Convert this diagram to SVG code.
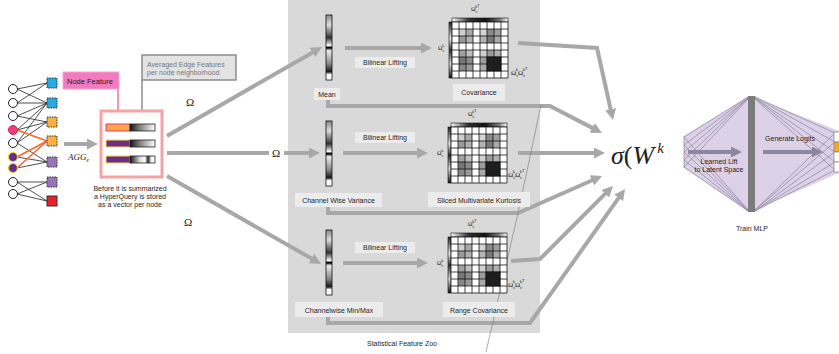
<svg xmlns="http://www.w3.org/2000/svg" width="839" height="354" viewBox="0 0 839 354">
<defs>
<style>
text{font-family:"Liberation Sans",Arial,sans-serif;fill:#1e1e1e}
.lbl{font-size:7px;text-anchor:middle}
.box{fill:#ececec}
.conn{fill:none;stroke:#a8a8a8;stroke-width:4}
.arr{marker-end:url(#ah)}
.parr{fill:none;stroke:#8e86a0;stroke-width:4;marker-end:url(#ahp)}
.edge{stroke:#222;stroke-width:0.8}
.oedge{stroke:#f26a2e;stroke-width:1.6}
.math{font-family:"Liberation Serif","Times New Roman",serif;fill:#222}
.net{stroke:#8c819f;stroke-width:0.7;fill:none}
.dsq{stroke:#333;stroke-width:1;stroke-dasharray:1.5 1}
</style>
<marker id="ah" viewBox="0 0 10 10" refX="2" refY="5" markerUnits="userSpaceOnUse" markerWidth="11" markerHeight="11" orient="auto"><path d="M0,0 L10,5 L0,10 z" fill="#a8a8a8"/></marker>
<marker id="ahp" viewBox="0 0 10 10" refX="2" refY="5" markerUnits="userSpaceOnUse" markerWidth="11" markerHeight="11" orient="auto"><path d="M0,0 L10,5 L0,10 z" fill="#8e86a0"/></marker>
<linearGradient id="hg1" x1="0" y1="0" x2="1" y2="0"><stop offset="0" stop-color="#111"/><stop offset="0.35" stop-color="#777"/><stop offset="1" stop-color="#fff"/></linearGradient>
<linearGradient id="hg3" x1="0" y1="0" x2="1" y2="0"><stop offset="0" stop-color="#111"/><stop offset="0.4" stop-color="#ddd"/><stop offset="0.6" stop-color="#fff"/><stop offset="0.72" stop-color="#222"/><stop offset="0.85" stop-color="#eee"/><stop offset="1" stop-color="#fff"/></linearGradient>
<linearGradient id="vcol" x1="0" y1="0" x2="0" y2="1"><stop offset="0" stop-color="#888"/><stop offset="0.15" stop-color="#ddd"/><stop offset="0.35" stop-color="#333"/><stop offset="0.47" stop-color="#fff"/><stop offset="0.5" stop-color="#000"/><stop offset="0.55" stop-color="#eee"/><stop offset="0.75" stop-color="#888"/><stop offset="0.88" stop-color="#111"/><stop offset="0.89" stop-color="#fff"/><stop offset="1" stop-color="#fff"/></linearGradient>
<linearGradient id="mh" x1="0" y1="0" x2="1" y2="0"><stop offset="0" stop-color="#fff"/><stop offset="0.3" stop-color="#333"/><stop offset="0.6" stop-color="#111"/><stop offset="0.85" stop-color="#777"/><stop offset="1" stop-color="#fff"/></linearGradient>
<linearGradient id="mv" x1="0" y1="0" x2="0" y2="1"><stop offset="0" stop-color="#222"/><stop offset="0.3" stop-color="#eee"/><stop offset="0.5" stop-color="#333"/><stop offset="0.75" stop-color="#ddd"/><stop offset="1" stop-color="#111"/></linearGradient>
<g id="mtx">
<rect x="3" y="0" width="56" height="4" fill="url(#mh)" stroke="#111" stroke-width="0.6"/>
<rect x="0" y="4" width="3" height="56" fill="url(#mv)" stroke="#111" stroke-width="0.6"/>
<rect x="3" y="4" width="56" height="56" fill="#fff"/>
<rect x="10" y="11" width="7" height="7" fill="#cfcfcf"/><rect x="17" y="11" width="7" height="7" fill="#a9a9a9"/><rect x="31" y="11" width="7" height="7" fill="#d4d4d4"/><rect x="38" y="11" width="7" height="7" fill="#8a8a8a"/><rect x="45" y="11" width="7" height="7" fill="#a0a0a0"/>
<rect x="10" y="18" width="7" height="7" fill="#9a9a9a"/><rect x="17" y="18" width="7" height="7" fill="#b0b0b0"/><rect x="31" y="18" width="7" height="7" fill="#b4b4b4"/><rect x="38" y="18" width="7" height="7" fill="#7a7a7a"/><rect x="45" y="18" width="7" height="7" fill="#aaa"/>
<rect x="10" y="32" width="7" height="7" fill="#a0a0a0"/><rect x="17" y="32" width="7" height="7" fill="#c0c0c0"/><rect x="31" y="32" width="7" height="7" fill="#d0d0d0"/><rect x="38" y="32" width="7" height="7" fill="#999"/><rect x="45" y="32" width="7" height="7" fill="#b0b0b0"/>
<rect x="10" y="39" width="7" height="7" fill="#777"/><rect x="17" y="39" width="7" height="7" fill="#8a8a8a"/><rect x="31" y="39" width="7" height="7" fill="#9c9c9c"/>
<rect x="10" y="46" width="7" height="7" fill="#888"/><rect x="17" y="46" width="7" height="7" fill="#9a9a9a"/><rect x="31" y="46" width="7" height="7" fill="#aaa"/>
<path d="M3,4V60M10,4V60M17,4V60M24,4V60M31,4V60M38,4V60M45,4V60M52,4V60M59,4V60M3,4H59M3,11H59M3,18H59M3,25H59M3,32H59M3,39H59M3,46H59M3,53H59M3,60H59" stroke="#111" stroke-width="0.8" fill="none"/>
<rect x="38" y="39" width="14" height="14" fill="#1e1e1e" stroke="#111" stroke-width="0.8"/>
</g>
<g id="col">
<rect x="0" y="0" width="6" height="65" fill="url(#vcol)" stroke="#111" stroke-width="0.8"/>
<path d="M0,33H6M0,58H6" stroke="#111" stroke-width="0.8"/>
</g>
</defs>

<rect x="0" y="0" width="839" height="354" fill="#fff"/>
<rect id="panel" x="288" y="0" width="252" height="333" fill="#d9d9d9"/>
<text x="402" y="346" class="lbl">Statistical Feature Zoo</text>

<g id="graph">
<g id="edges-black">
<line class="edge" x1="17" y1="89" x2="47" y2="83"/><line class="edge" x1="17" y1="89" x2="47" y2="103"/>
<line class="edge" x1="17" y1="103" x2="47" y2="83"/><line class="edge" x1="17" y1="103" x2="47" y2="103"/>
<line class="edge" x1="17" y1="116" x2="47" y2="103"/><line class="edge" x1="17" y1="116" x2="47" y2="122"/>
<line class="edge" x1="17" y1="130" x2="47" y2="103"/><line class="edge" x1="17" y1="130" x2="47" y2="122"/>
<line class="edge" x1="17" y1="143" x2="47" y2="103"/><line class="edge" x1="17" y1="143" x2="47" y2="122"/><line class="edge" x1="17" y1="143" x2="47" y2="162"/>
<line class="edge" x1="17" y1="157" x2="47" y2="162"/><line class="edge" x1="17" y1="168" x2="47" y2="162"/>
<line class="edge" x1="17" y1="182" x2="47" y2="182"/><line class="edge" x1="17" y1="182" x2="47" y2="201"/>
<line class="edge" x1="17" y1="194" x2="47" y2="182"/><line class="edge" x1="17" y1="194" x2="47" y2="201"/>
</g>
<g id="edges-orange">
<line class="oedge" x1="17" y1="130" x2="47" y2="141"/>
<line class="oedge" x1="17" y1="157" x2="47" y2="141"/>
<line class="oedge" x1="17" y1="168" x2="47" y2="141"/>
</g>
<g id="c0"><circle cx="13" cy="89" r="4.5" fill="#fff" stroke="#222"/></g>
<g id="c1"><circle cx="13" cy="103" r="4.5" fill="#fff" stroke="#222"/></g>
<g id="c2"><circle cx="13" cy="116" r="4.5" fill="#fff" stroke="#222"/></g>
<g id="c3"><circle cx="13" cy="130" r="4.5" fill="#ec3e7a" stroke="#d81f55"/></g>
<g id="c4"><circle cx="13" cy="143" r="4.5" fill="#fff" stroke="#222"/></g>
<g id="c5"><circle cx="13" cy="157" r="4.5" fill="#662d91" stroke="#f5d31c" stroke-width="1.2"/></g>
<g id="c6"><circle cx="13" cy="168" r="4.5" fill="#662d91" stroke="#f5d31c" stroke-width="1.2"/></g>
<g id="c7"><circle cx="13" cy="182" r="4.5" fill="#fff" stroke="#222"/></g>
<g id="c8"><circle cx="13" cy="194" r="4.5" fill="#fff" stroke="#222"/></g>
<g id="s0"><rect class="dsq" x="47" y="78" width="10" height="10" fill="#27a9e1"/></g>
<g id="s1"><rect class="dsq" x="47" y="98" width="10" height="10" fill="#27a9e1"/></g>
<g id="s2"><rect class="dsq" x="47" y="117" width="10" height="10" fill="#fbb040"/></g>
<g id="s3"><rect class="dsq" x="47" y="136" width="10" height="10" fill="#fbb040"/></g>
<g id="s4"><rect class="dsq" x="47" y="157" width="10" height="10" fill="#9c75b8"/></g>
<g id="s5"><rect class="dsq" x="47" y="177" width="10" height="10" fill="#9c75b8"/></g>
<g id="s6"><rect x="47" y="196" width="10" height="10" fill="#e52228" stroke="#333"/></g>
</g>

<g id="connectors">
<line class="conn arr" x1="64" y1="144" x2="89.2" y2="144"/>
<line class="conn arr" x1="167" y1="136" x2="314.4" y2="51.4"/>
<line class="conn" x1="167" y1="153" x2="269" y2="153"/>
<line class="conn arr" x1="284" y1="153" x2="311.2" y2="153"/>
<line class="conn arr" x1="167" y1="176" x2="313.4" y2="259.6"/>
<line class="conn arr" x1="345" y1="48" x2="423.2" y2="48"/>
<line class="conn arr" x1="343" y1="153" x2="419.2" y2="153"/>
<line class="conn arr" x1="343" y1="263" x2="419.2" y2="263"/>
<polyline class="conn arr" points="518,43 597,48 611.1,111.4"/>
<polyline class="conn arr" points="328,100 328,106 550,106 594.2,128.9"/>
<line class="conn arr" x1="518" y1="153" x2="596.2" y2="153"/>
<polyline class="conn arr" points="328,207 328,213 518,213 594,179.5"/>
<polyline class="conn arr" points="511,261 540,259 606.8,192.2"/>
<polyline class="conn arr" points="328,317 328,323 530,323 619.9,196.2"/>
<line x1="118" y1="89" x2="118" y2="124" stroke="#f0506a" stroke-width="1.2"/>
<line x1="142" y1="80" x2="142" y2="124" stroke="#8c8c8c" stroke-width="1.5"/>
<polyline points="541,105 518,213 486,352" fill="none" stroke="#777" stroke-width="0.6"/>
</g>

<g id="agg"><text x="68" y="160" class="math" font-size="9" font-style="italic">AGG<tspan font-size="6" dy="2">e</tspan></text></g>
<g id="omega1"><text x="186" y="106" class="math" font-size="11">Ω</text></g>
<g id="omega2"><text x="272" y="157" class="math" font-size="11">Ω</text></g>
<g id="omega3"><text x="184" y="226" class="math" font-size="11">Ω</text></g>

<g id="node-feature">
<rect x="63" y="72" width="56" height="17" fill="#f27bbf" stroke="#f7a8d6" stroke-width="1"/>
<text x="67" y="83.5" font-size="7.5">Node Feature</text>
</g>
<g id="edge-features">
<rect x="142" y="55" width="94" height="25" fill="#e3e3e3" stroke="#8c8c8c" stroke-width="1.5"/>
<text x="147" y="67" font-size="7" style="fill:#777">Averaged Edge Features</text>
<text x="147" y="75" font-size="7" style="fill:#777">per node neighborhood</text>
</g>
<g id="hyperquery">
<rect x="101" y="111" width="61" height="66" fill="#fff" stroke="#f4a3a3" stroke-width="3"/>
<rect x="106" y="124" width="24" height="7" fill="#f8a93e" stroke="#e8358a" stroke-width="1"/>
<rect x="130" y="124" width="25" height="7" fill="url(#hg1)" stroke="#222" stroke-width="0.8"/>
<rect x="106" y="140" width="24" height="7" fill="#6a2c91" stroke="#f5e11a" stroke-width="1"/>
<rect x="130" y="140" width="25" height="7" fill="url(#hg1)" stroke="#222" stroke-width="0.8"/>
<rect x="106" y="156" width="24" height="7" fill="#6a2c91" stroke="#f5e11a" stroke-width="1"/>
<rect x="130" y="156" width="25" height="7" fill="url(#hg3)" stroke="#222" stroke-width="0.8"/>
<text x="130" y="190.5" class="lbl" font-size="7.5">Before it is summarized</text>
<text x="130" y="198.8" class="lbl" font-size="7.5">a HyperQuery is stored</text>
<text x="130" y="207" class="lbl" font-size="7.5">as a vector per node</text>
</g>

<g id="mean">
<use href="#col" x="326" y="15"/>
<rect class="box" x="314" y="88" width="26" height="12"/><text x="327" y="96.5" class="lbl">Mean</text>
</g>
<g id="bilinear1"><rect class="box" x="355" y="57" width="60" height="11"/><text x="385" y="65" class="lbl">Bilinear Lifting</text></g>
<g id="covariance">
<use href="#mtx" x="449" y="18"/>
<text x="471" y="11" class="math" font-size="6">Ω<tspan font-size="4" dy="1.5">c</tspan><tspan font-size="4" dx="-2" dy="-5">k</tspan><tspan font-size="3.5" dy="-1">T</tspan></text>
<text x="438" y="50" class="math" font-size="6">Ω<tspan font-size="4" dy="1.5">c</tspan><tspan font-size="4" dx="-2" dy="-5">k</tspan></text>
<text x="511" y="75" class="math" font-size="7">Ω<tspan font-size="4.5" dy="1.5">c</tspan><tspan font-size="4.5" dx="-2.5" dy="-5.5">k</tspan><tspan dy="4">Ω</tspan><tspan font-size="4.5" dy="1.5">c</tspan><tspan font-size="4.5" dx="-2.5" dy="-5.5">k</tspan><tspan font-size="4" dy="-1">T</tspan></text>
<rect class="box" x="453" y="84" width="52" height="17"/><text x="479" y="95" class="lbl">Covariance</text>
</g>

<g id="variance">
<use href="#col" x="326" y="121"/>
<rect class="box" x="295" y="193" width="87" height="14"/><text x="338.5" y="202.5" class="lbl">Channel Wise Variance</text>
</g>
<g id="bilinear2"><rect class="box" x="355" y="132" width="60" height="11"/><text x="385" y="140" class="lbl">Bilinear Lifting</text></g>
<g id="kurtosis">
<use href="#mtx" x="448" y="123"/>
<text x="468" y="116" class="math" font-size="6">Ω<tspan font-size="4" dy="1.5">c</tspan><tspan font-size="4" dx="-2" dy="-5">k</tspan><tspan font-size="3.5" dy="-1">T</tspan></text>
<text x="437" y="155" class="math" font-size="6">Ω<tspan font-size="4" dy="1.5">c</tspan><tspan font-size="4" dx="-2" dy="-5">k</tspan></text>
<text x="508" y="177" class="math" font-size="7">Ω<tspan font-size="4.5" dy="1.5">c</tspan><tspan font-size="4.5" dx="-2.5" dy="-5.5">k</tspan><tspan dy="4">Ω</tspan><tspan font-size="4.5" dy="1.5">c</tspan><tspan font-size="4.5" dx="-2.5" dy="-5.5">k</tspan><tspan font-size="4" dy="-1">T</tspan></text>
<rect class="box" x="428" y="192" width="102" height="15"/><text x="479" y="202.5" class="lbl">Sliced Multivariate Kurtosis</text>
</g>

<g id="minmax">
<use href="#col" x="326" y="230"/>
<rect class="box" x="295" y="302" width="88" height="15"/><text x="339" y="312.5" class="lbl">Channelwise Min/Max</text>
</g>
<g id="bilinear3"><rect class="box" x="355" y="242" width="60" height="11"/><text x="385" y="250" class="lbl">Bilinear Lifting</text></g>
<g id="range-cov">
<use href="#mtx" x="448" y="233"/>
<text x="468" y="226" class="math" font-size="6">Ω<tspan font-size="4" dy="1.5">c</tspan><tspan font-size="4" dx="-2" dy="-5">k</tspan><tspan font-size="3.5" dy="-1">T</tspan></text>
<text x="437" y="265" class="math" font-size="6">Ω<tspan font-size="4" dy="1.5">c</tspan><tspan font-size="4" dx="-2" dy="-5">k</tspan></text>
<text x="508" y="287" class="math" font-size="7">Ω<tspan font-size="4.5" dy="1.5">c</tspan><tspan font-size="4.5" dx="-2.5" dy="-5.5">k</tspan><tspan dy="4">Ω</tspan><tspan font-size="4.5" dy="1.5">c</tspan><tspan font-size="4.5" dx="-2.5" dy="-5.5">k</tspan><tspan font-size="4" dy="-1">T</tspan></text>
<rect class="box" x="443" y="302" width="72" height="15"/><text x="479" y="312.5" class="lbl">Range Covariance</text>
</g>

<g id="sigma">
<text x="611" y="164" class="math" font-size="26"><tspan font-style="italic">σ</tspan>(<tspan font-style="italic">W</tspan><tspan font-size="15" font-style="italic" dx="3" dy="-11">k</tspan></text>
</g>

<g id="mlp">
<polygon points="684,136 750,96 839,131 839,173 750,212 684,168" fill="#ddd1e8"/>
<line class="net" x1="684" y1="136" x2="684" y2="168"/>
<g class="net">
<line x1="684" y1="137" x2="748" y2="97"/><line x1="684" y1="145" x2="748" y2="97"/><line x1="684" y1="152" x2="748" y2="98"/><line x1="684" y1="160" x2="748" y2="98"/><line x1="684" y1="167" x2="748" y2="99"/>
<line x1="684" y1="137" x2="748" y2="210"/><line x1="684" y1="145" x2="748" y2="210"/><line x1="684" y1="152" x2="748" y2="211"/><line x1="684" y1="160" x2="748" y2="211"/><line x1="684" y1="167" x2="748" y2="211"/>
<line x1="755" y1="97" x2="835" y2="133"/><line x1="755" y1="97" x2="835" y2="142"/><line x1="755" y1="98" x2="835" y2="152"/><line x1="755" y1="98" x2="835" y2="162"/><line x1="755" y1="99" x2="835" y2="170"/>
<line x1="755" y1="210" x2="835" y2="133"/><line x1="755" y1="210" x2="835" y2="142"/><line x1="755" y1="211" x2="835" y2="152"/><line x1="755" y1="211" x2="835" y2="162"/><line x1="755" y1="211" x2="835" y2="170"/>
</g>
<rect x="748" y="96" width="7" height="116" fill="#7b7b7b"/>
<rect x="834" y="132" width="8" height="10" fill="#fff" stroke="#8c8c8c" stroke-width="0.8"/>
<rect x="834" y="142" width="8" height="10" fill="#f5a623" stroke="#8c8c8c" stroke-width="0.8"/>
<rect x="834" y="152" width="8" height="10" fill="#fff" stroke="#8c8c8c" stroke-width="0.8"/>
<rect x="834" y="162" width="8" height="10" fill="#fff" stroke="#8c8c8c" stroke-width="0.8"/>
<line class="parr" x1="688" y1="152" x2="733.2" y2="152"/>
<line class="parr" x1="763" y1="152" x2="814" y2="152"/>
<text x="719" y="164" class="lbl">Learned Lift</text>
<text x="719" y="172" class="lbl">to Latent Space</text>
<text x="790" y="141" class="lbl">Generate Logits</text>
<text x="752" y="231" class="lbl">Train MLP</text>
</g>
</svg>
